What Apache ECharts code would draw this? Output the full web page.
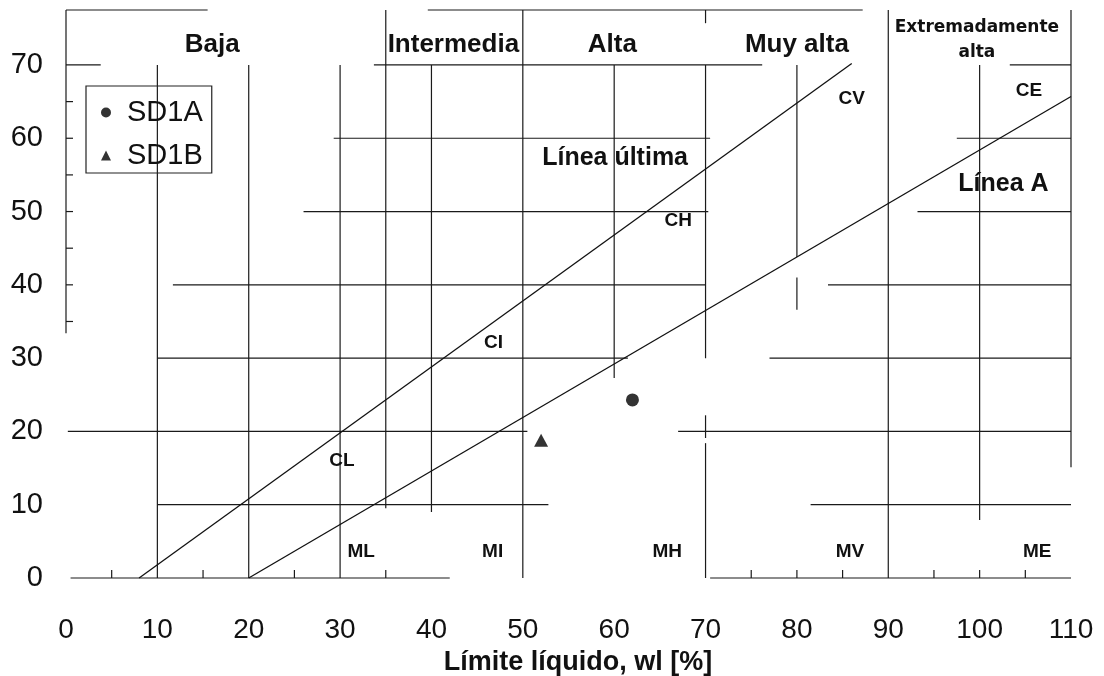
<!DOCTYPE html>
<html>
<head>
<meta charset="utf-8">
<script src="https://cdn.jsdelivr.net/npm/echarts@6/dist/echarts.min.js"></script>
<style>
  html, body { margin: 0; padding: 0; background: #ffffff; }
  #chart { width: 1104px; height: 676px; }
</style>
</head>
<body>
<div id="chart"></div>
<script>
// ---- Samples: liquid limit wl [%] and plasticity index ----
const sd1aWl = [62.0];
const sd1aPi = [24.3];
const sd1bWl = [52.0];
const sd1bPi = [18.8];

// ---- Classification lines, end points [wl, PI] ----
const lineaUltima = [[8, 0], [86, 70.2]];
const lineaA = [[20, 0], [110, 65.7]];

// ---- Plasticity bands written in the header strip ----
const bandNames = ['Baja', 'Intermedia', 'Alta', 'Muy alta', 'Extremadamente\nalta'];
const bandWl = [16, 42.4, 59.8, 80, 99.7];
const bandPi = [72.8, 72.8, 72.8, 72.8, 73.4];

// ---- Soil group codes ----
const groupCodes = ['CL', 'CI', 'CH', 'CV', 'CE', 'ML', 'MI', 'MH', 'MV', 'ME'];
const groupWl = [30.2, 46.8, 67.0, 86.0, 105.4, 32.3, 46.7, 65.8, 85.8, 106.3];
const groupPi = [16.0, 32.1, 48.7, 65.4, 66.5, 3.6, 3.6, 3.6, 3.6, 3.6];

// ---- Names of the two lines ----
const lineNames = ['Línea última', 'Línea A'];
const lineNameWl = [60.1, 102.6];
const lineNamePi = [57.3, 53.7];

// ---- Ruled grid: horizontal rules [PI, spans in wl], vertical rules [wl, spans in PI] ----
const hRules = [
  [77.5, [[0, 15.5], [39.6, 87.2]]],
  [70, [[0, 3.8], [33.7, 76.2], [103.3, 110]]],
  [60, [[29.3, 70.5], [97.5, 110]]],
  [50, [[26, 70.3], [93.2, 110]]],
  [40, [[11.7, 70], [83.4, 110]]],
  [30, [[10, 61.5], [77, 110]]],
  [20, [[0.2, 50.5], [67, 110]]],
  [10, [[10, 52.8], [81.5, 110]]],
  [0, [[0.5, 42], [70.5, 110]]]
];
const vRules = [
  [0, [[33.4, 77.5]]],
  [10, [[0, 70]]],
  [20, [[0, 70]]],
  [30, [[0, 70]]],
  [35, [[9.5, 77.5]]],
  [40, [[9, 70]]],
  [50, [[0, 77.5]]],
  [60, [[27.3, 70]]],
  [70, [[0, 18.4], [19.1, 22.2], [30, 70], [75.7, 77.5]]],
  [80, [[36.6, 41], [43.8, 70]]],
  [90, [[0, 77.5]]],
  [100, [[7.9, 70]]],
  [110, [[15.1, 77.5]]]
];
// small ticks on the two axes
const xTickMarks = [5, 15, 25, 35, 75, 80, 85, 95, 100, 105];
const yTickMarks = [35, 40, 45, 50, 55, 60, 65];

const INK = '#111111';
const RULE = '#1a1a1a';
const FONT = 'Liberation Sans, Arial, sans-serif';

const ruleSegments = [];
hRules.forEach(([pi, spans]) => spans.forEach(([a, b]) => ruleSegments.push([a, pi, b, pi])));
vRules.forEach(([wl, spans]) => spans.forEach(([a, b]) => ruleSegments.push([wl, a, wl, b])));

function renderRule(params, api) {
  const p1 = api.coord([api.value(0), api.value(1)]);
  const p2 = api.coord([api.value(2), api.value(3)]);
  return {
    type: 'line',
    shape: { x1: p1[0], y1: p1[1], x2: p2[0], y2: p2[1] },
    style: { stroke: RULE, lineWidth: 1.2 }
  };
}
function renderXTick(params, api) {
  const p = api.coord([api.value(0), 0]);
  return { type: 'line', shape: { x1: p[0], y1: p[1], x2: p[0], y2: p[1] - 8 },
           style: { stroke: RULE, lineWidth: 1.2 } };
}
function renderYTick(params, api) {
  const p = api.coord([0, api.value(1)]);
  return { type: 'line', shape: { x1: p[0], y1: p[1], x2: p[0] + 7, y2: p[1] },
           style: { stroke: RULE, lineWidth: 1.2 } };
}
function textRenderer(texts, font, lineHeight) {
  return function (params, api) {
    const p = api.coord([api.value(0), api.value(1)]);
    return {
      type: 'text',
      x: p[0], y: p[1],
      style: {
        text: texts[params.dataIndex],
        font: font,
        fill: INK,
        align: 'center',
        verticalAlign: 'middle',
        lineHeight: lineHeight
      }
    };
  };
}

const chart = echarts.init(document.getElementById('chart'), null, { renderer: 'canvas' });

chart.setOption({
  animation: false,
  backgroundColor: '#ffffff',
  grid: { left: 66, right: 33, top: 10, bottom: 98, containLabel: false, outerBoundsMode: 'none' },
  xAxis: {
    type: 'value', min: 0, max: 110, interval: 10,
    axisLine: { show: false }, axisTick: { show: false }, splitLine: { show: false },
    axisLabel: { fontSize: 28, color: INK, margin: 38, fontFamily: FONT },
    name: 'Límite líquido, wl [%]',
    nameLocation: 'middle', nameGap: 67,
    nameTextStyle: { fontSize: 27, fontWeight: 'bold', color: INK, fontFamily: FONT, padding: [0, 0, 0, 19] }
  },
  yAxis: {
    type: 'value', min: 0, max: 77.5, interval: 10,
    axisLine: { show: false }, axisTick: { show: false }, splitLine: { show: false },
    axisLabel: {
      fontSize: 29, color: INK, margin: 23, fontFamily: FONT, padding: [6, 0, 0, 0],
      formatter: v => (v % 10 === 0 && v <= 70 ? String(v) : '')
    }
  },
  legend: {
    orient: 'vertical', left: 86, top: 86,
    padding: [12, 9, 3, 15], itemGap: 14, itemWidth: 10, itemHeight: 10,
    borderColor: '#222222', borderWidth: 1.2,
    textStyle: { fontSize: 29, color: INK, fontFamily: FONT, padding: [0, 0, 0, 11] },
    data: [{ name: 'SD1A', icon: 'circle' }, { name: 'SD1B', icon: 'triangle' }]
  },
  series: [
    {
      type: 'custom', name: 'rules', silent: true, z: 1,
      coordinateSystem: 'cartesian2d', encode: { x: [0, 2], y: [1, 3] },
      data: ruleSegments, renderItem: renderRule
    },
    {
      type: 'custom', name: 'xticks', silent: true, z: 1,
      coordinateSystem: 'cartesian2d', encode: { x: 0 },
      data: xTickMarks.map(v => [v]), renderItem: renderXTick
    },
    {
      type: 'custom', name: 'yticks', silent: true, z: 1,
      coordinateSystem: 'cartesian2d', encode: { x: 0, y: 1 },
      data: yTickMarks.map(v => [0, v]), renderItem: renderYTick
    },
    {
      type: 'line', name: 'Línea última', data: lineaUltima, showSymbol: false, silent: true, z: 2,
      lineStyle: { color: INK, width: 1.3 }
    },
    {
      type: 'line', name: 'Línea A', data: lineaA, showSymbol: false, silent: true, z: 2,
      lineStyle: { color: INK, width: 1.3 }
    },
    {
      type: 'custom', name: 'bands', silent: true, z: 3,
      coordinateSystem: 'cartesian2d', encode: { x: 0, y: 1 },
      data: bandWl.map((w, i) => [w, bandPi[i]]),
      renderItem: function (params, api) {
        const p = api.coord([api.value(0), api.value(1)]);
        const long = params.dataIndex === 4;
        return {
          type: 'text', x: p[0], y: p[1],
          style: {
            text: bandNames[params.dataIndex],
            font: long ? 'bold 17px "DejaVu Sans", sans-serif' : 'bold 26px ' + FONT,
            fill: INK, align: 'center', verticalAlign: 'middle',
            lineHeight: long ? 25 : 30
          }
        };
      }
    },
    {
      type: 'custom', name: 'groups', silent: true, z: 3,
      coordinateSystem: 'cartesian2d', encode: { x: 0, y: 1 },
      data: groupWl.map((w, i) => [w, groupPi[i]]),
      renderItem: textRenderer(groupCodes, 'bold 19px ' + FONT, 22)
    },
    {
      type: 'custom', name: 'lineNames', silent: true, z: 3,
      coordinateSystem: 'cartesian2d', encode: { x: 0, y: 1 },
      data: lineNameWl.map((w, i) => [w, lineNamePi[i]]),
      renderItem: textRenderer(lineNames, 'bold 25px ' + FONT, 28)
    },
    {
      type: 'scatter', name: 'SD1A', z: 4,
      data: sd1aWl.map((w, i) => [w, sd1aPi[i]]),
      symbol: 'circle', symbolSize: 13,
      itemStyle: { color: '#000000' }
    },
    {
      type: 'scatter', name: 'SD1B', z: 4,
      data: sd1bWl.map((w, i) => [w, sd1bPi[i]]),
      symbol: 'triangle', symbolSize: [14, 13],
      itemStyle: { color: '#000000' }
    }
  ]
});
</script>
</body>
</html>
